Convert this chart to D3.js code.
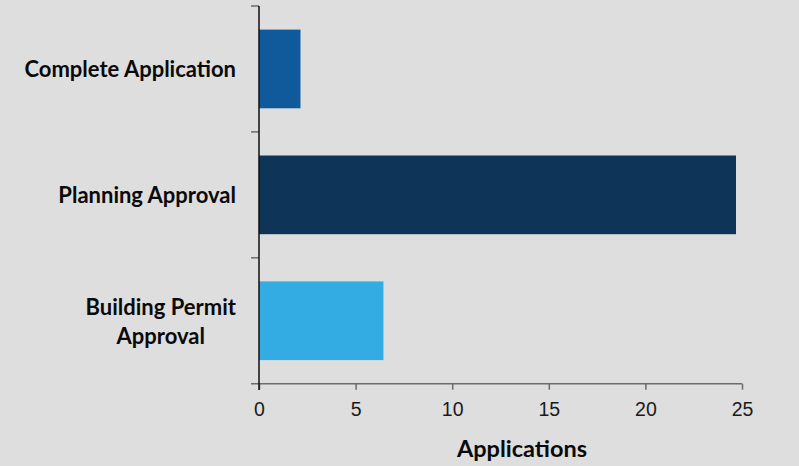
<!DOCTYPE html>
<html>
<head>
<meta charset="utf-8">
<script src="https://cdn.jsdelivr.net/npm/d3@7"></script>
<style>
  html, body { margin: 0; padding: 0; background: #dedede; }
  svg { display: block; }
</style>
</head>
<body>
<svg id="chart" width="799" height="466"></svg>
<script>
const categories = ["Complete Application", "Planning Approval", "Building Permit Approval"];
const categoryLines = [["Complete Application"], ["Planning Approval"], ["Building Permit", "Approval"]];
const values = [2, 23, 6];
const barColors = ["#105A9C", "#0E3457", "#33ACE3"];
const xTicks = [0, 5, 10, 15, 20, 25];
const xTitle = "Applications";

(function () {
const svg = d3.select("#chart");
const pLeft = 259, pTop = 6, pBottom = 383.7;

const xAxisScale = d3.scaleLinear().domain([0, 25]).range([pLeft, 742]);
const xBarScale = d3.scaleLinear().domain([0, 23]).range([pLeft, 736]);
const y = d3.scaleBand().domain(categories).range([pTop, pBottom]).paddingInner(0.375).paddingOuter(0.1875);

// bars
svg.append("g").selectAll("rect").data(values).join("rect")
  .attr("x", xBarScale(0))
  .attr("y", (d, i) => y(categories[i]))
  .attr("width", d => xBarScale(d) - xBarScale(0))
  .attr("height", y.bandwidth())
  .attr("fill", (d, i) => barColors[i]);

// x axis
const gx = svg.append("g").attr("transform", `translate(0,${pBottom})`)
  .call(d3.axisBottom(xAxisScale).tickValues(xTicks).tickSize(6).tickSizeOuter(0).tickPadding(12.5));
gx.select(".domain").attr("stroke", "#6b6b6b").attr("stroke-width", 1.5)
  .attr("d", `M251,0H742`);
gx.selectAll(".tick line").attr("stroke", "#6b6b6b").attr("stroke-width", 1.5);
gx.selectAll(".tick text").attr("font-family", "Arial, 'Liberation Sans', sans-serif")
  .attr("font-size", 19.5).attr("fill", "#1a1a1a");

// y axis ticks (band boundaries)
const step = (pBottom - pTop) / categories.length;
const boundaries = categories.map((c, i) => pTop + i * step);
svg.append("g").selectAll("line").data(boundaries).join("line")
  .attr("x1", 251).attr("x2", pLeft).attr("y1", d => d).attr("y2", d => d)
  .attr("stroke", "#6b6b6b").attr("stroke-width", 1.5);
svg.append("line").attr("x1", pLeft).attr("x2", pLeft).attr("y1", pTop).attr("y2", 390)
  .attr("stroke", "#111").attr("stroke-width", 1.5);

// category labels
const labelRight = 236;
const lineH = 29.3;
categories.forEach((c, i) => {
  const lines = categoryLines[i];
  const cy = y(c) + y.bandwidth() / 2;
  const g = svg.append("g");
  const texts = lines.map((ln, j) => g.append("text")
    .attr("font-family", "Lato, 'Open Sans', sans-serif")
    .attr("font-weight", "bold")
    .attr("font-size", 22)
    .attr("fill", "#0a0a0a")
    .attr("text-anchor", "middle")
    .attr("dominant-baseline", "central")
    .attr("y", cy + (j - (lines.length - 1) / 2) * lineH)
    .text(ln));
  const maxW = d3.max(texts, t => t.node().getComputedTextLength());
  texts.forEach(t => t.attr("x", labelRight - maxW / 2));
});

// x title
svg.append("text")
  .attr("x", 522).attr("y", 457)
  .attr("text-anchor", "middle")
  .attr("font-family", "Lato, 'Open Sans', sans-serif")
  .attr("font-weight", "bold")
  .attr("font-size", 23.5)
  .attr("fill", "#0a0a0a")
  .text(xTitle);
})();
</script>
</body>
</html>
